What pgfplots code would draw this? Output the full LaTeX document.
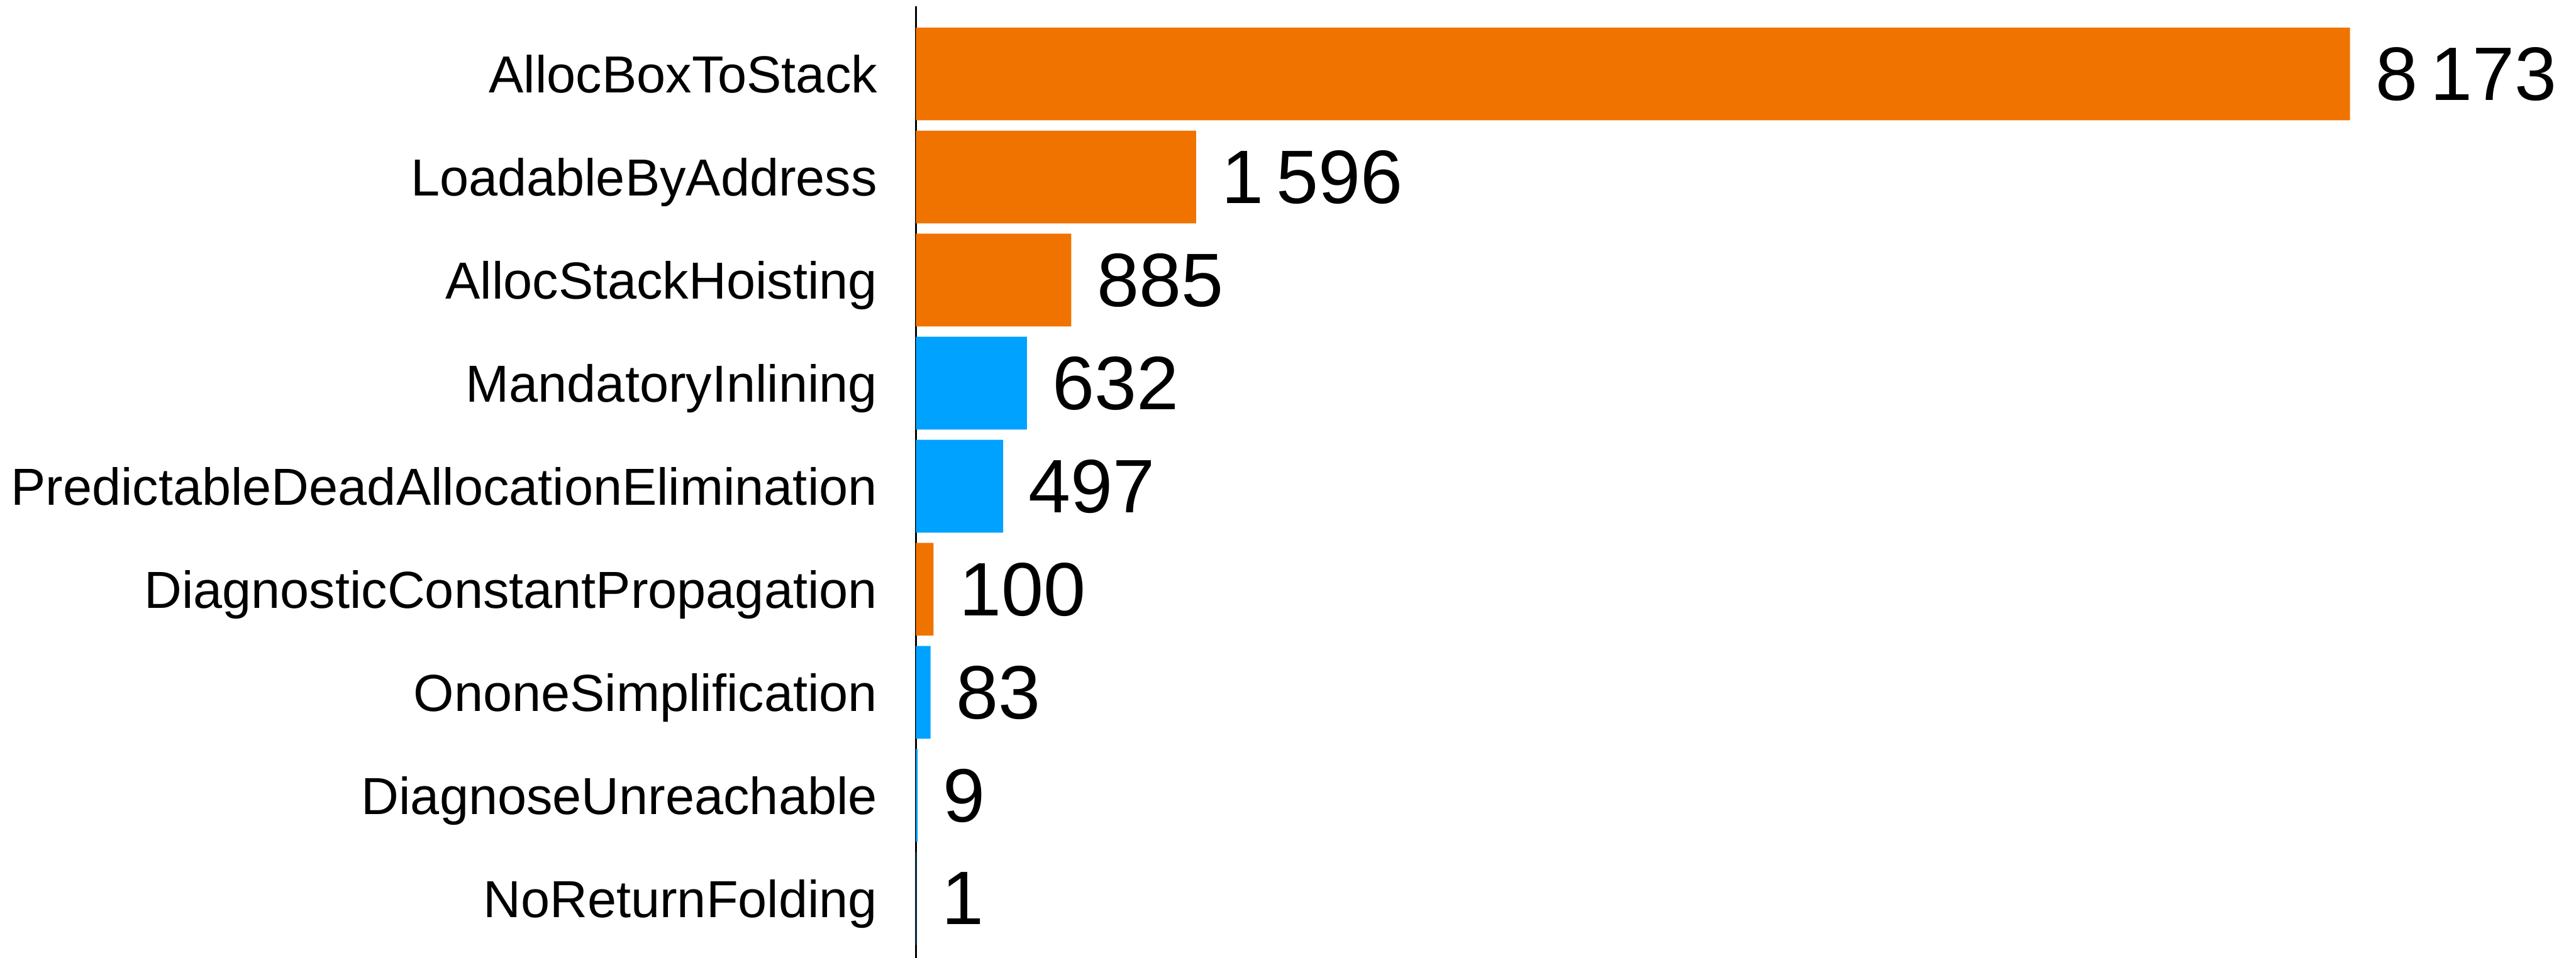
\documentclass[border=0pt]{standalone}
\usepackage{pgfplots}
\pgfplotsset{compat=1.18}
\usepackage{fontspec}
\setmainfont{Liberation Sans}
\definecolor{barorange}{RGB}{240,115,0}
\definecolor{barblue}{RGB}{0,162,255}
\begin{document}
\begin{tikzpicture}
\begin{axis}[
  scale only axis,
  width=277.2pt, height=167.1pt,
  xmin=0, xmax=9000,
  ymin=-0.657, ymax=8.575,
  y dir=reverse,
  enlargelimits=false,
  clip=false,
  xbar, bar width=16.3pt, bar shift=0pt,
  axis x line=none,
  axis y line*=left,
  y axis line style={draw=black, line width=0.3pt},
  major tick length=0pt,
  ytick={0,1,2,3,4,5,6,7,8},
  yticklabels={AllocBoxToStack,LoadableByAddress,AllocStackHoisting,MandatoryInlining,PredictableDeadAllocationElimination,DiagnosticConstantPropagation,OnoneSimplification,DiagnoseUnreachable,NoReturnFolding},
  yticklabel style={font=\fontsize{9.15pt}{10pt}\selectfont, anchor=east, inner sep=0pt, xshift=-6.6pt, text depth=0pt},
  nodes near coords,
  every node near coord/.append style={font=\fontsize{13.3pt}{15pt}\selectfont, anchor=west, inner sep=0pt, xshift=4.3pt, text depth=0pt, black},
  /pgf/number format/1000 sep={\,},
  /pgf/number format/assume math mode=true,
]
\addplot[draw=none, fill=barorange] coordinates {
  (8173,0) (1596,1) (885,2) (100,5)
};
\addplot[draw=none, fill=barblue] coordinates {
  (632,3) (497,4) (83,6) (9,7) (1,8)
};
\coordinate (A) at (axis cs:0,-0.657);
\end{axis}
\pgfresetboundingbox
\path (A) ++(-160.8pt,1.1pt) rectangle ++(452.2pt,-168.2pt);
\end{tikzpicture}
\end{document}
